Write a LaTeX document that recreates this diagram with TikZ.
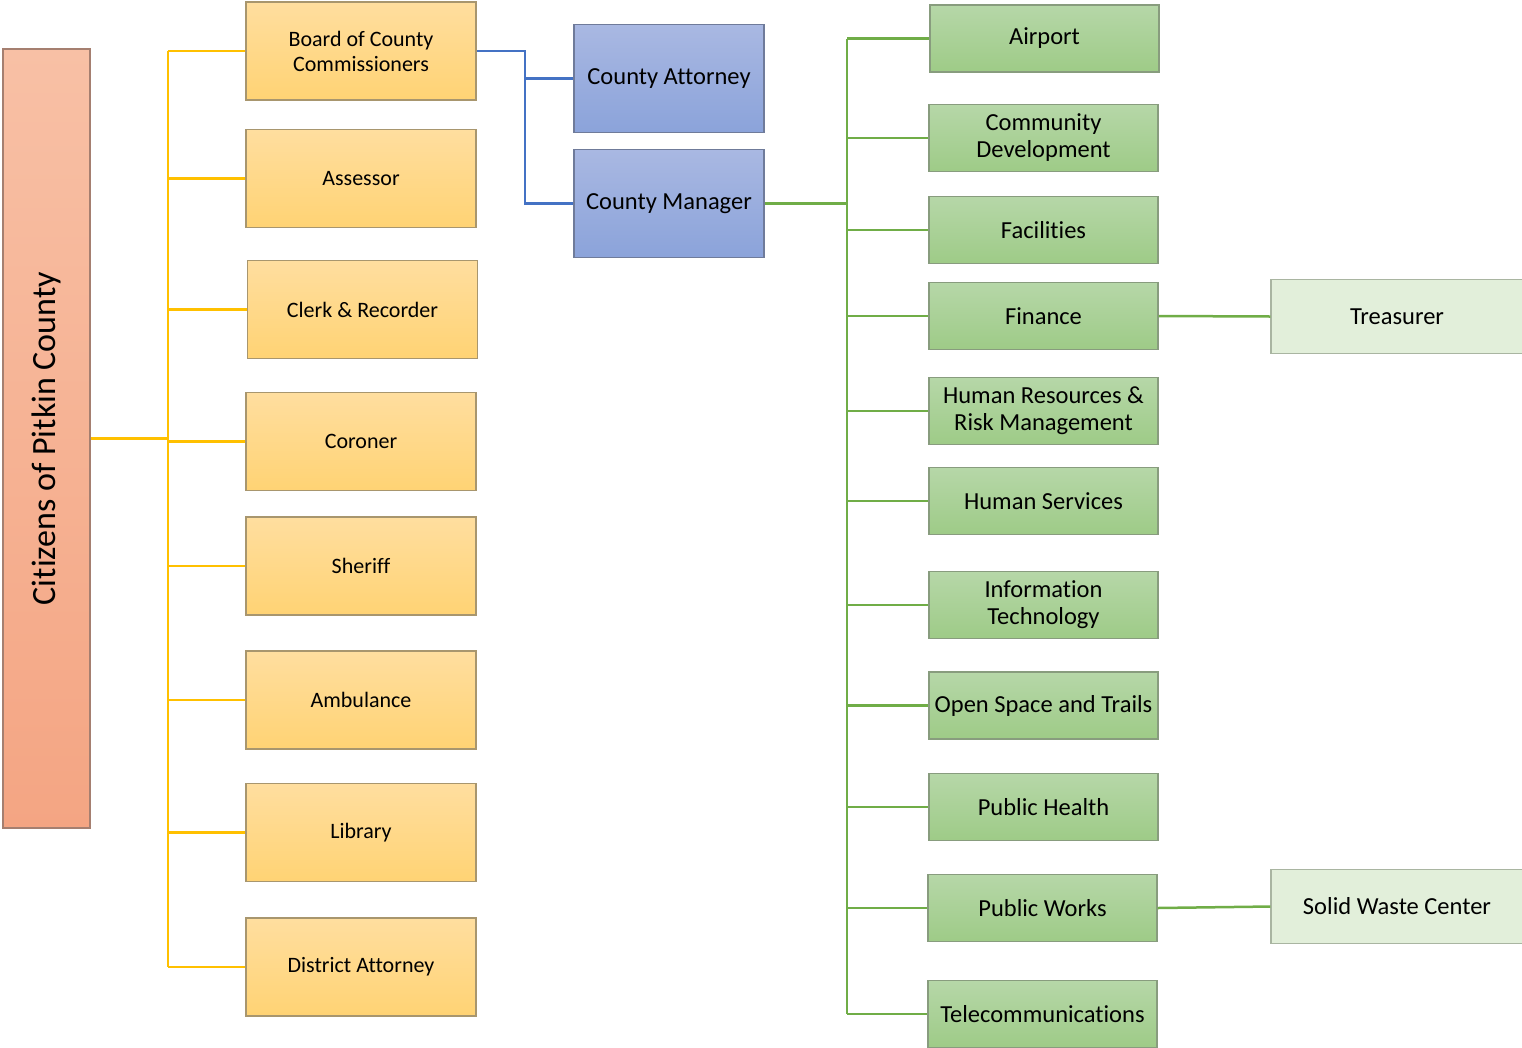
\documentclass[tikz,border=0pt]{standalone}
\usepackage{fontspec}
\setmainfont[Ligatures={NoCommon}]{Carlito}
\usepackage{tikz}
\usepackage{xcolor}
\usetikzlibrary{positioning}

\definecolor{citTop}{HTML}{F8C0A5}
\definecolor{citBot}{HTML}{F4A583}
\definecolor{offTop}{HTML}{FFDE9F}
\definecolor{offBot}{HTML}{FFD374}
\definecolor{legTop}{HTML}{A9B8E2}
\definecolor{legBot}{HTML}{8BA3DA}
\definecolor{depTop}{HTML}{B6D7A8}
\definecolor{depBot}{HTML}{9ECB87}
\definecolor{subFill}{HTML}{E2EFDA}
\definecolor{yLine}{HTML}{FFC000}
\definecolor{bLine}{HTML}{4472C4}
\definecolor{gLine}{HTML}{70AD47}

\begin{document}
\begin{tikzpicture}[
            x=1pt, y=-1pt,
            citbox/.style={draw={rgb,255:red,165;green,127;blue,112}, line width=1.2pt,
                top color=citTop, bottom color=citBot,
                minimum width=87, minimum height=779, inner sep=0pt,
                font=\fontsize{34}{38}\selectfont},
            offbox/.style={draw={rgb,255:red,168;green,150;blue,110}, line width=1.2pt,
                top color=offTop, bottom color=offBot,
                minimum width=230, minimum height=98, inner sep=0pt, align=center,
                font=\fontsize{22}{25}\selectfont},
            legbox/.style={draw={rgb,255:red,111;green,123;blue,154}, line width=1.2pt,
                top color=legTop, bottom color=legBot,
                minimum width=190, minimum height=108, inner sep=0pt, align=center,
                font=\fontsize{24.5}{27}\selectfont},
            depbox/.style={draw={rgb,255:red,136;green,156;blue,126}, line width=1.2pt,
                top color=depTop, bottom color=depBot,
                minimum width=229, minimum height=67, inner sep=0pt, align=center,
                font=\fontsize{24.5}{27}\selectfont},
            subbox/.style={draw={rgb,255:red,169;green,181;blue,161}, line width=1.2pt,
                fill=subFill,
                minimum width=252, minimum height=74, inner sep=0pt, align=center,
                font=\fontsize{24.5}{27}\selectfont},
            ylink/.style={draw=yLine, line width=2.5pt},
            blink/.style={draw=bLine, line width=2.5pt},
            glink/.style={draw=gLine, line width=2.5pt},
        ]
            \useasboundingbox (0,0) rectangle (1522,1047);

            % citizens
            \node[citbox] (cit) at (46.5,438.5) {\rotatebox{90}{Citizens of Pitkin County}};

            % elected offices
            \node[offbox] (board) at (361,51) {Board of County\\Commissioners};
            \node[offbox] (assessor) at (361,178.5) {Assessor};
            \node[offbox] (clerk) at (362.5,309.5) {Clerk \& Recorder};
            \node[offbox] (coroner) at (361,441.5) {Coroner};
            \node[offbox] (sheriff) at (361,566) {Sheriff};
            \node[offbox] (ambulance) at (361,700) {Ambulance};
            \node[offbox] (library) at (361,832.5) {Library};
            \node[offbox] (distatty) at (361,967) {District Attorney};

            % appointed by the board
            \node[legbox] (cntyatty) at (669,78.5) {County Attorney};
            \node[legbox] (manager) at (669,203.5) {County Manager};

            % departments
            \node[depbox] (airport) at (1044.5,38.5) {Airport};
            \node[depbox] (commdev) at (1043.5,138) {Community\\Development};
            \node[depbox] (facilities) at (1043.5,230) {Facilities};
            \node[depbox] (finance) at (1043.5,316) {Finance};
            \node[depbox] (hr) at (1043.5,411) {Human Resources \&\\Risk Management};
            \node[depbox] (humserv) at (1043.5,501) {Human Services};
            \node[depbox] (infotech) at (1043.5,605) {Information\\Technology};
            \node[depbox] (openspace) at (1043.5,705.5) {Open Space and Trails};
            \node[depbox] (pubhealth) at (1043.5,807) {Public Health};
            \node[depbox] (pubworks) at (1042.5,908) {Public Works};
            \node[depbox] (telecom) at (1042.5,1014) {Telecommunications};

            \node[subbox] (treasurer) at (1397,316.5) {Treasurer};
            \node[subbox] (solidwaste) at (1397,906.5) {Solid Waste Center};

            % trunks
            \coordinate (yx) at (168,0);
            \coordinate (bx) at (525,0);
            \coordinate (gx) at (847,0);

            \draw[ylink] (board.west -| yx) -- (distatty.west -| yx);
            \draw[ylink] (cit.east) -- (cit.east -| yx);
            \foreach \n in {board, assessor, clerk, coroner, sheriff, ambulance, library, distatty}
                \draw[ylink] (\n.west -| yx) -- (\n.west);

            \draw[blink] (board.east) -- (board.east -| bx) -- (manager.west -| bx) -- (manager.west);
            \draw[blink] (cntyatty.west -| bx) -- (cntyatty.west);

            \draw[glink] (manager.east) -- (manager.east -| gx);
            \draw[glink] (airport.west -| gx) -- (telecom.west -| gx);
            \foreach \n in {airport, commdev, facilities, finance, hr, humserv, infotech, openspace, pubhealth, pubworks, telecom}
                \draw[glink] (\n.west -| gx) -- (\n.west);
            \draw[glink] (finance.east) -- (treasurer.west);
            \draw[glink] (pubworks.east) -- (solidwaste.west);
        \end{tikzpicture}
\end{document}
